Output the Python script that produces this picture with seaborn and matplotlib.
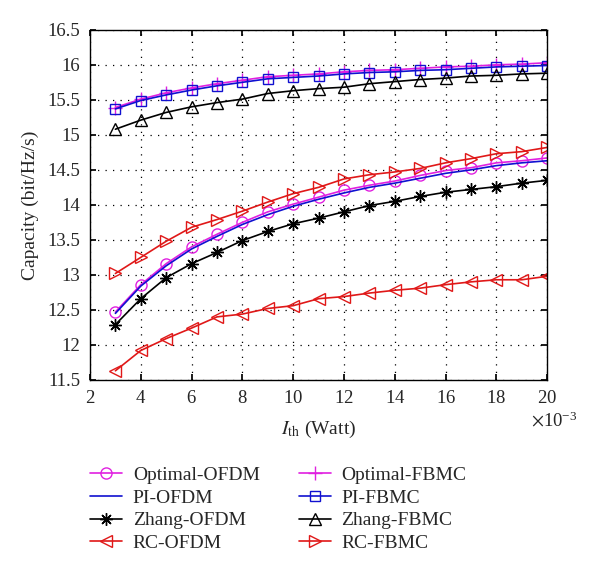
"""
Capacity vs interference threshold for OFDM / FBMC allocation schemes.
"""

import matplotlib
matplotlib.use("Agg")
import matplotlib.pyplot as plt
import matplotlib.ticker as mticker
import seaborn as sns
import pandas as pd

# interference threshold (Watt)
i_th = [0.003, 0.004, 0.005, 0.006, 0.007, 0.008, 0.009, 0.010, 0.011, 0.012,
        0.013, 0.014, 0.015, 0.016, 0.017, 0.018, 0.019, 0.020]

optimal_ofdm = [12.47, 12.86, 13.16, 13.40, 13.58, 13.75, 13.90, 14.01, 14.11, 14.21,
                14.28, 14.34, 14.42, 14.49, 14.53, 14.60, 14.63, 14.67]
pi_ofdm = [12.45, 12.84, 13.13, 13.37, 13.55, 13.72, 13.86, 13.98, 14.08, 14.17,
           14.25, 14.31, 14.38, 14.45, 14.50, 14.56, 14.60, 14.63]
zhang_ofdm = [12.29, 12.66, 12.96, 13.16, 13.32, 13.49, 13.62, 13.73, 13.81, 13.90,
              13.99, 14.05, 14.12, 14.18, 14.22, 14.26, 14.31, 14.35]
rc_ofdm = [11.63, 11.92, 12.09, 12.24, 12.40, 12.44, 12.52, 12.56, 12.66, 12.69,
           12.74, 12.78, 12.81, 12.86, 12.90, 12.93, 12.93, 12.98]

optimal_fbmc = [15.39, 15.51, 15.60, 15.67, 15.73, 15.78, 15.83, 15.85, 15.87, 15.90,
                15.92, 15.93, 15.95, 15.97, 15.98, 16.00, 16.01, 16.03]
pi_fbmc = [15.37, 15.49, 15.57, 15.64, 15.70, 15.75, 15.80, 15.82, 15.84, 15.87,
           15.89, 15.90, 15.92, 15.93, 15.95, 15.97, 15.98, 15.99]
zhang_fbmc = [15.08, 15.21, 15.32, 15.40, 15.46, 15.51, 15.59, 15.63, 15.66, 15.68,
              15.73, 15.76, 15.79, 15.81, 15.84, 15.85, 15.87, 15.88]
rc_fbmc = [13.02, 13.25, 13.48, 13.68, 13.79, 13.91, 14.04, 14.16, 14.25, 14.37,
           14.43, 14.47, 14.52, 14.60, 14.66, 14.73, 14.76, 14.82]

series_names = ["Optimal-OFDM", "PI-OFDM", "Zhang-OFDM", "RC-OFDM",
                "Optimal-FBMC", "PI-FBMC", "Zhang-FBMC", "RC-FBMC"]
series_values = [optimal_ofdm, pi_ofdm, zhang_ofdm, rc_ofdm,
                 optimal_fbmc, pi_fbmc, zhang_fbmc, rc_fbmc]

y_ticks = [11.5, 12, 12.5, 13, 13.5, 14, 14.5, 15, 15.5, 16, 16.5]
x_ticks = [0.002, 0.004, 0.006, 0.008, 0.010, 0.012, 0.014, 0.016, 0.018, 0.020]

# style per series: colour, marker, marker size
styles = {
    "Optimal-OFDM": ("#e020e0", "o", 8),
    "PI-OFDM": ("#1010d0", None, 0),
    "Zhang-OFDM": ("black", (8, 2, 0), 9),
    "RC-OFDM": ("#e01818", "<", 9),
    "Optimal-FBMC": ("#e020e0", "+", 10),
    "PI-FBMC": ("#1010d0", "s", 7),
    "Zhang-FBMC": ("black", "^", 9),
    "RC-FBMC": ("#e01818", ">", 9),
}

sns.set_theme(style="white")
plt.rcParams["font.family"] = ["Liberation Serif", "DejaVu Serif"]
plt.rcParams["mathtext.fontset"] = "stix"

fig = plt.figure(figsize=(6.0, 5.73), dpi=100)
ax = fig.add_axes([0.15, 0.337, 0.762, 0.611])

handles = []
for name, vals in zip(series_names, series_values):
    color, marker, ms = styles[name]
    df = pd.DataFrame({"x": i_th, "y": vals})
    sns.lineplot(data=df, x="x", y="y", ax=ax, color=color, linewidth=1.2,
                 marker=marker if marker is not None else "", markersize=ms,
                 markerfacecolor="none", markeredgecolor=color,
                 markeredgewidth=1.0, label=name, legend=False)
    handles.append(ax.lines[-1])

ax.set_xlim(0.002, 0.020)
ax.set_ylim(11.5, 16.5)
ax.set_xticks(x_ticks)
ax.set_yticks(y_ticks)
ax.yaxis.set_major_formatter(mticker.StrMethodFormatter("{x:g}"))
fmt = mticker.ScalarFormatter(useMathText=True)
fmt.set_powerlimits((-3, -3))
ax.xaxis.set_major_formatter(fmt)
off = ax.xaxis.get_offset_text()
off.set_fontsize(13.5)
off.set_horizontalalignment("left")
off.set_x(0.965)

ax.grid(True, color="black", linestyle=(0, (1, 5)), linewidth=0.9)
for s in ax.spines.values():
    s.set_color("black")
    s.set_linewidth(1.0)
ax.tick_params(direction="in", length=4, color="black", labelsize=13.5,
               top=True, right=True, bottom=True, left=True)
ax.tick_params(axis="y", pad=7)
ax.tick_params(axis="x", pad=7)

ax.set_xlabel(r"$I_{\rm th}$ (Watt)", fontsize=14, labelpad=9)
ax.set_ylabel("Capacity (bit/Hz/s)", fontsize=14, labelpad=6)

fig.legend(handles=handles, labels=series_names, ncol=2, frameon=False,
           loc="upper left", bbox_to_anchor=(0.15, 0.186), fontsize=14,
           borderpad=0, borderaxespad=0,
           handlelength=1.65, handletextpad=0.55, columnspacing=2.0,
           labelspacing=0.26)

fig.savefig("out.png", dpi=100)
